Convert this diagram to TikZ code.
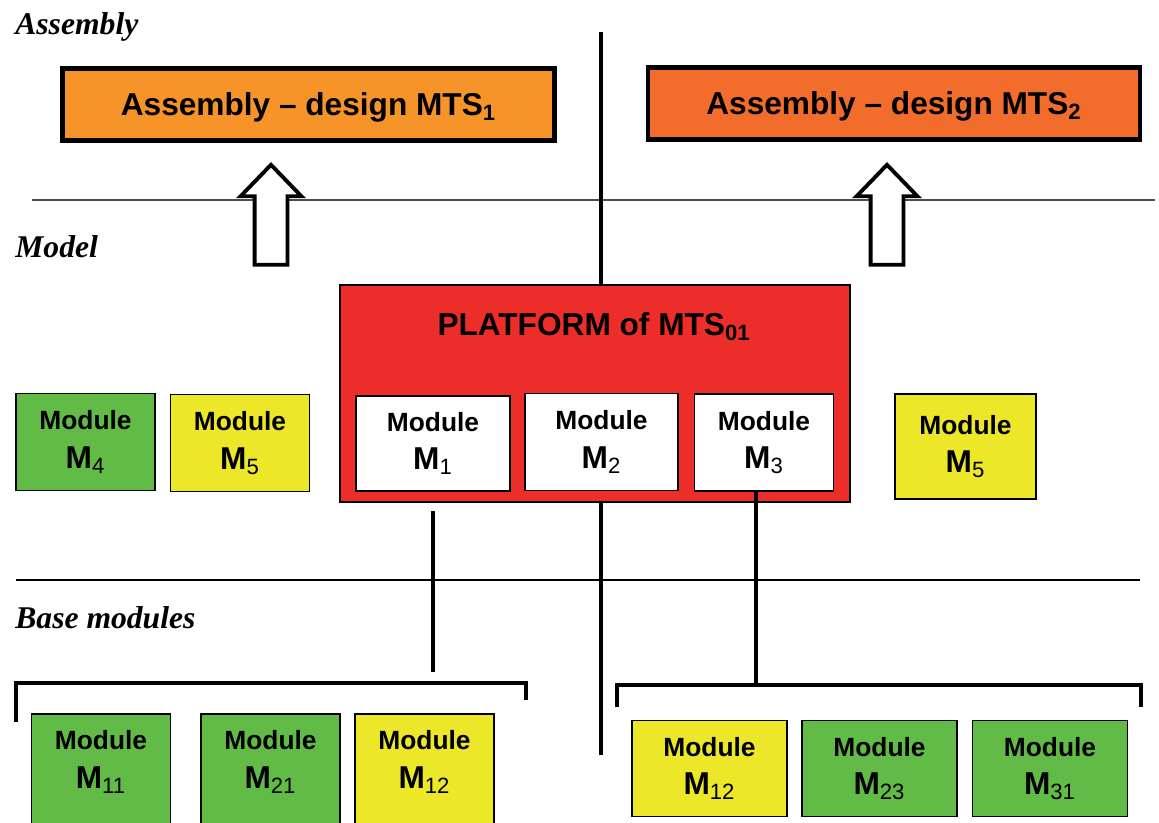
\documentclass[tikz,border=0pt]{standalone}
\usepackage{fontspec}
\setmainfont{Liberation Sans}
\newfontfamily\lblfont{Liberation Serif}
\usetikzlibrary{shapes.arrows}

\definecolor{assyone}{RGB}{247,148,41}
\definecolor{assytwo}{RGB}{242,108,44}
\definecolor{platred}{RGB}{237,45,41}
\definecolor{modgreen}{RGB}{98,187,70}
\definecolor{modyellow}{RGB}{236,231,40}

\newcommand{\modM}[1]{{\fontsize{18}{22}\selectfont M\textsubscript{\mdseries #1}}}

\begin{document}
\begin{tikzpicture}[
    x=0.02cm, y=-0.02cm,
    tier/.style     = {font=\lblfont\fontsize{18}{22}\selectfont\bfseries\itshape,
                       anchor=base west, inner sep=0pt},
    divider/.style  = {line width=0.8pt},
    thickbar/.style = {line width=2.8pt},
    assy/.style     = {rectangle, draw=black, line width=2.6pt,
                       minimum width=9.84cm, minimum height=1.44cm, text depth=0pt,
                       font=\fontsize{18}{22}\selectfont\bfseries},
    mod/.style      = {rectangle, draw=black, line width=0.9pt, align=center,
                       minimum width=2.78cm, minimum height=1.94cm, inner sep=0pt,
                       font=\fontsize{15}{22}\selectfont\bfseries},
    modG/.style     = {mod, fill=modgreen},
    modY/.style     = {mod, fill=modyellow},
    modW/.style     = {mod, fill=white},
    cut/.style      = {minimum height=2.4cm, text depth=0.57cm},
    wide/.style     = {minimum width=3.1cm, minimum height=1.92cm},
    hollowup/.style = {single arrow, draw=black, fill=white, line width=2.2pt,
                       rotate=90, minimum height=2cm, inner xsep=0pt,
                       inner ysep=0.29cm, text height=0pt, text depth=0pt,
                       minimum width=1.14cm, single arrow head extend=0.28cm,
                       single arrow tip angle=88, anchor=tip}
]
\useasboundingbox (0,0) rectangle (1159,822);
\clip (0,0) rectangle (1159,822);

% Tier labels and separators
\node[tier] (tAssy)  at (15,34)  {Assembly};
\node[tier] (tModel) at (15,257) {Model};
\node[tier] (tBase)  at (15,628) {Base modules};
\draw[divider, black!70] (32,200) -- (1155,200);
\draw[divider] (16,580) -- (1140,580);

% Middle divider runs behind the platform
\coordinate (spineTop) at (601,32);
\coordinate (spineBot) at (601,755);
\draw[thickbar] (spineTop) -- (spineBot);

% Assembly designs
\node[assy, fill=assyone] (mtsA) at (308.5,104.5) {Assembly -- design MTS\textsubscript{1}};
\node[assy, fill=assytwo] (mtsB) at (894,103.5)   {Assembly -- design MTS\textsubscript{2}};
\node[hollowup] (upA) at (271,162) {};
\node[hollowup] (upB) at (887,162) {};

% Platform with its modules
\node[rectangle, draw=black, line width=0.9pt, fill=platred,
      minimum width=10.2cm, minimum height=4.34cm] (plat) at (595,393.5) {};
\node[font=\fontsize{18}{22}\selectfont\bfseries] (platTitle) at (594,327)
      {PLATFORM of MTS\textsubscript{01}};
\node[modW, minimum width=3.08cm, minimum height=1.9cm] (m1) at (433,443.5) {Module\\\modM{1}};
\node[modW, minimum width=3.06cm] (m2) at (601.5,442) {Module\\\modM{2}};
\node[modW] (m3) at (764,442.5) {Module\\\modM{3}};

% Free modules
\node[modG] (m4)  at (85.5,442)  {Module\\\modM{4}};
\node[modY] (m5a) at (240,443)   {Module\\\modM{5}};
\node[modY, minimum width=2.82cm, minimum height=2.1cm] (m5b) at (965.5,446.5) {Module\\\modM{5}};

% Base modules
\node[modG, cut] (m11)  at (101,774)   {Module\\\modM{11}};
\node[modG, cut] (m21)  at (270.5,774) {Module\\\modM{21}};
\node[modY, cut] (m12a) at (424.5,774) {Module\\\modM{12}};
\node[modY, wide] (m12b) at (709.5,768.5) {Module\\\modM{12}};
\node[modG, wide] (m23)  at (879.5,768.5) {Module\\\modM{23}};
\node[modG, wide] (m31)  at (1050,768.5)  {Module\\\modM{31}};

% Brackets
\coordinate (brLa) at (16,722);
\coordinate (brLb) at (16,683);
\coordinate (brLc) at (526,683);
\coordinate (brLd) at (526,700);
\coordinate (brRa) at (617,707);
\coordinate (brRb) at (617,685);
\coordinate (brRc) at (1141,685);
\coordinate (brRd) at (1141,707);
\draw[thickbar] (brLa) -- (brLb) -- (brLc) -- (brLd);
\draw[thickbar] (brRa) -- (brRb) -- (brRc) -- (brRd);

% Drops from the platform modules
\coordinate (m1top) at (433,511);
\coordinate (m1bot) at (433,672);
\coordinate (m3top) at ([xshift=-0.16cm]m3.south);
\draw[thickbar] (m1top) -- (m1bot);
\draw[thickbar] (m3top) -- (m3top |- brRb);
\end{tikzpicture}
\end{document}
